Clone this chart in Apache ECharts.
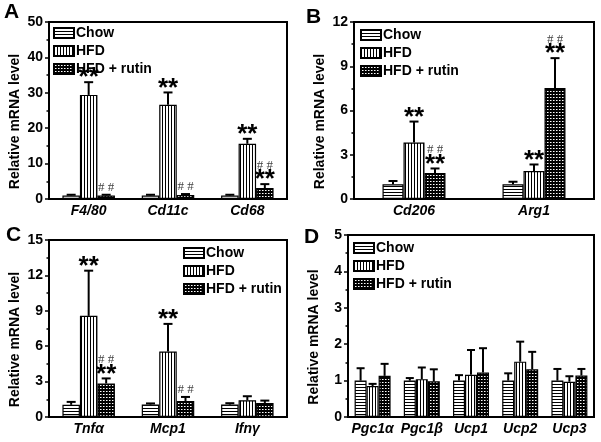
<!DOCTYPE html>
<html><head><meta charset="utf-8">
<script src="https://cdn.jsdelivr.net/npm/echarts@6/dist/echarts.min.js"></script>
<style>html,body{margin:0;padding:0;background:#fff}#c{width:601px;height:442px}</style>
</head><body><div id="c"></div>
<script>
// ---------- DATA ----------
const groups = ['Chow', 'HFD', 'HFD + rutin'];

const catsA = ['F4/80', 'Cd11c', 'Cd68'];
const chowA = [1.0, 1.0, 1.0];        const chowAErr = [0.2, 0.2, 0.2];
const hfdA = [29.4, 26.6, 15.6];      const hfdAErr = [3.6, 3.5, 1.4];
const rutinA = [1.0, 1.1, 3.1];       const rutinAErr = [0.2, 0.3, 1.1];
const starsA = [['', '', ''], ['**', '**', '**'], ['', '', '**']];
const hashA  = [['', '', ''], ['', '', ''], ['##', '##', '##']];

const catsB = ['Cd206', 'Arg1'];
const chowB = [1.0, 1.0];             const chowBErr = [0.22, 0.17];
const hfdB = [3.83, 1.9];             const hfdBErr = [1.42, 0.44];
const rutinB = [1.76, 7.53];          const rutinBErr = [0.31, 2.02];
const starsB = [['', ''], ['**', '**'], ['**', '**']];
const hashB  = [['', ''], ['', ''], ['##', '##']];

const catsC = ['Tnfα', 'Mcp1', 'Ifnγ'];
const chowC = [1.03, 1.05, 1.05];     const chowCErr = [0.25, 0.1, 0.12];
const hfdC = [8.57, 5.55, 1.42];      const hfdCErr = [3.83, 2.34, 0.34];
const rutinC = [2.84, 1.36, 1.19];    const rutinCErr = [0.43, 0.34, 0.2];
const starsC = [['', '', ''], ['**', '**', ''], ['**', '', '']];
const hashC  = [['', '', ''], ['', '', ''], ['##', '##', '']];

const catsD = ['Pgc1α', 'Pgc1β', 'Ucp1', 'Ucp2', 'Ucp3'];
const chowD = [1.0, 1.0, 1.0, 1.0, 1.0];       const chowDErr = [0.34, 0.07, 0.15, 0.2, 0.32];
const hfdD = [0.85, 1.04, 1.16, 1.52, 0.97];   const hfdDErr = [0.06, 0.32, 0.68, 0.55, 0.15];
const rutinD = [1.13, 0.98, 1.22, 1.31, 1.14]; const rutinDErr = [0.33, 0.33, 0.67, 0.48, 0.18];
const starsD = [['', '', '', '', ''], ['', '', '', '', ''], ['', '', '', '', '']];
const hashD  = [['', '', '', '', ''], ['', '', '', '', ''], ['', '', '', '', '']];

const yMax = [50, 12, 15, 5];
const yStep = [10, 3, 3, 1];
const panelLetters = ['A', 'B', 'C', 'D'];

// ---------- PATTERNS ----------
function pat(kind) {
  const c = document.createElement('canvas');
  c.width = 3; c.height = 3;
  const g = c.getContext('2d');
  if (kind === 'h') { g.fillStyle = '#fff'; g.fillRect(0,0,3,3); g.fillStyle = '#000'; g.fillRect(0,0,3,1); }
  else if (kind === 'v') { g.fillStyle = '#fff'; g.fillRect(0,0,3,3); g.fillStyle = '#000'; g.fillRect(0,0,1,3); }
  else { g.fillStyle = '#000'; g.fillRect(0,0,3,3); g.fillStyle = '#fff'; g.fillRect(1,1,1,1); g.fillStyle='#888'; g.fillRect(2,1,1,1); }
  return { image: c, repeat: 'repeat' };
}
const fills = [pat('h'), pat('v'), pat('g')];

// ---------- LAYOUT ----------
const grids = [
  { left: 49, top: 22, width: 238, height: 177 },
  { left: 354, top: 22, width: 240, height: 177 },
  { left: 49, top: 240, width: 238, height: 177 },
  { left: 348, top: 235, width: 246, height: 182 }
];
const BW = [17.5, 21, 17.5, 12];
const CAP = [9, 9, 9, 8];
const legendPos = [
  { left: 53, top: 26 }, { left: 360, top: 28 }, { left: 183, top: 246 }, { left: 353, top: 241 }
];
const letterPos = [[4, 2], [306, 7], [6, 225], [304, 227]];

const panels = [
  { cats: catsA, vals: [chowA, hfdA, rutinA], errs: [chowAErr, hfdAErr, rutinAErr], stars: starsA, hash: hashA },
  { cats: catsB, vals: [chowB, hfdB, rutinB], errs: [chowBErr, hfdBErr, rutinBErr], stars: starsB, hash: hashB },
  { cats: catsC, vals: [chowC, hfdC, rutinC], errs: [chowCErr, hfdCErr, rutinCErr], stars: starsC, hash: hashC },
  { cats: catsD, vals: [chowD, hfdD, rutinD], errs: [chowDErr, hfdDErr, rutinDErr], stars: starsD, hash: hashD }
];

const FONT = '"Liberation Sans", Arial, sans-serif';

function errRender(p, s) {
  return function (params, api) {
    const i = api.value(0), v = api.value(1), e = api.value(2);
    const off = (s - 1) * BW[p];
    const p0 = api.coord([i, v]);
    const p1 = api.coord([i, v + e]);
    const x = p0[0] + off;
    const ch = [];
    if (e > 0) {
      ch.push({ type: 'line', shape: { x1: x, y1: p0[1], x2: x, y2: p1[1] }, style: { stroke: '#000', lineWidth: 2 } });
      ch.push({ type: 'line', shape: { x1: x - CAP[p] / 2, y1: p1[1], x2: x + CAP[p] / 2, y2: p1[1] }, style: { stroke: '#000', lineWidth: 2 } });
    }
    let y = p1[1] - 2;
    const st = panels[p].stars[s][params.dataIndex];
    const hs = panels[p].hash[s][params.dataIndex];
    if (st) {
      ch.push({ type: 'text', style: { text: '**', x: x, y: y + 11, align: 'center', verticalAlign: 'bottom', font: 'bold 26px ' + FONT, fill: '#000' } });
      y -= 11;
    }
    if (hs) {
      ch.push({ type: 'text', style: { text: '# #', x: x, y: y + 1, align: 'center', verticalAlign: 'bottom', font: '13px "Liberation Serif", serif', fill: '#444' } });
    }
    return { type: 'group', children: ch };
  };
}

const option = {
  animation: false,
  backgroundColor: '#fff',
  grid: grids.map(g => Object.assign({ show: true, borderColor: '#000', borderWidth: 2, backgroundColor: 'transparent' }, g)),
  xAxis: panels.map((pn, k) => ({
    type: 'category', gridIndex: k, data: pn.cats,
    axisLine: { lineStyle: { color: '#000', width: 2 } },
    axisTick: { show: false },
    axisLabel: { interval: 0, color: '#000', fontFamily: FONT, fontWeight: 'bold', fontStyle: 'italic', fontSize: 14, margin: 5 }
  })),
  yAxis: panels.map((pn, k) => ({
    type: 'value', gridIndex: k, min: 0, max: yMax[k], interval: yStep[k],
    name: 'Relative mRNA level', nameLocation: 'middle', nameGap: 27,
    nameTextStyle: { color: '#000', fontFamily: FONT, fontWeight: 'bold', fontSize: 14, padding: [0, 22, 0, 0] },
    axisLine: { show: true, lineStyle: { color: '#000', width: 2 } },
    axisTick: { show: true, length: 4, lineStyle: { color: '#000', width: 1.5 } },
    minorTick: { show: true, splitNumber: 2, length: 2.5, lineStyle: { color: '#000', width: 1.5 } },
    splitLine: { show: false },
    axisLabel: { color: '#000', fontFamily: FONT, fontWeight: 'bold', fontSize: 14, margin: 6 }
  })),
  legend: panels.map((pn, k) => ({
    data: groups, orient: 'vertical', left: legendPos[k].left, top: legendPos[k].top,
    itemWidth: 20, itemHeight: 10, itemGap: 4, icon: 'rect', selectedMode: false, padding: 0,
    textStyle: { color: '#000', fontFamily: FONT, fontWeight: 'bold', fontSize: 14, lineHeight: 14, padding: [0, 0, 0, -3] }
  })),
  series: [],
  graphic: panelLetters.map((L, k) => ({
    type: 'text', left: letterPos[k][0], top: letterPos[k][1],
    style: { text: L, font: 'bold 21px ' + FONT, fill: '#000' }
  }))
};

panels.forEach((pn, k) => {
  groups.forEach((gname, s) => {
    option.series.push({
      type: 'bar', name: gname, xAxisIndex: k, yAxisIndex: k,
      data: pn.vals[s], barWidth: BW[k], barGap: '0%',
      itemStyle: { color: fills[s], borderColor: '#000', borderWidth: 1.2 },
      z: 2
    });
  });
  groups.forEach((gname, s) => {
    option.series.push({
      type: 'custom', name: 'err' + k + s, xAxisIndex: k, yAxisIndex: k,
      data: pn.vals[s].map((v, i) => [i, v, pn.errs[s][i]]),
      renderItem: errRender(k, s), z: 3, clip: false
    });
  });
});

const chart = echarts.init(document.getElementById('c'), null, { renderer: 'canvas' });
chart.setOption(option);
</script></body></html>
